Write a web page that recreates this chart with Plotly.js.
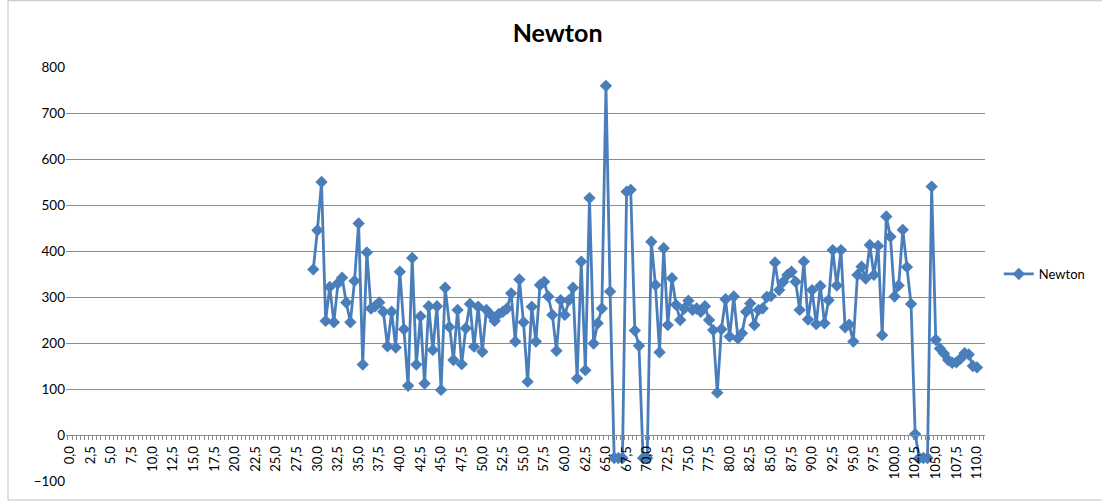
<!DOCTYPE html>
<html>
<head>
<meta charset="utf-8">
<script src="https://cdn.plot.ly/plotly-3.0.1.min.js"></script>
<style>html,body{margin:0;padding:0;background:#fff;}#chart{width:1102px;height:501px;}</style>
</head>
<body>
<div id="chart"></div>
<script>
const seriesName = "Newton";
const categories = [
  29.5,30,30.5,31,31.5,32,32.5,33,33.5,34,34.5,35,35.5,36,36.5,37,37.5,38,38.5,39,39.5,40,
  40.5,41,41.5,42,42.5,43,43.5,44,44.5,45,45.5,46,46.5,47,47.5,48,48.5,49,49.5,50,
  50.5,51,51.5,52,52.5,53,53.5,54,54.5,55,55.5,56,56.5,57,57.5,58,58.5,59,59.5,60,
  60.5,61,61.5,62,62.5,63,63.5,64,64.5,65,65.5,66,66.5,67,67.5,68,68.5,69,69.5,70,
  70.5,71,71.5,72,72.5,73,73.5,74,74.5,75,75.5,76,76.5,77,77.5,78,78.5,79,79.5,80,
  80.5,81,81.5,82,82.5,83,83.5,84,84.5,85,85.5,86,86.5,87,87.5,88,88.5,89,89.5,90,
  90.5,91,91.5,92,92.5,93,93.5,94,94.5,95,95.5,96,96.5,97,97.5,98,98.5,99,99.5,100,
  100.5,101,101.5,102,102.5,103,103.5,104,104.5,105,105.5,106,106.5,107,107.5,108,108.5,109,109.5,110
];
const newtonValues = [
  360,445,550,248,322,245,330,342,288,245,335,460,153,397,275,280,288,268,193,268,190,355,
  230,107,385,153,258,112,280,185,280,98,320,235,163,272,154,232,285,192,279,181,
  272,262,248,263,268,275,308,203,338,245,116,279,203,326,333,301,261,183,293,261,
  293,320,123,377,141,515,199,243,275,759,312,-50,-50,-50,529,533,227,194,-50,-50,
  420,326,180,406,239,341,283,250,275,292,272,275,268,280,250,228,92,230,295,214,
  301,210,221,268,286,239,272,275,300,302,375,315,333,348,355,333,272,377,251,315,
  241,324,243,293,402,325,402,234,240,203,348,366,340,413,348,411,217,475,431,301,
  325,446,365,285,2,-50,-50,-50,540,207,188,177,163,157,158,166,178,175,150,147
];
const xTickVals = [0,2.5,5,7.5,10,12.5,15,17.5,20,22.5,25,27.5,30,32.5,35,37.5,40,42.5,45,47.5,50,
  52.5,55,57.5,60,62.5,65,67.5,70,72.5,75,77.5,80,82.5,85,87.5,90,92.5,95,97.5,100,102.5,105,107.5,110];
const xTickText = ["0,0","2,5","5,0","7,5","10,0","12,5","15,0","17,5","20,0","22,5","25,0","27,5","30,0",
  "32,5","35,0","37,5","40,0","42,5","45,0","47,5","50,0","52,5","55,0","57,5","60,0","62,5","65,0","67,5",
  "70,0","72,5","75,0","77,5","80,0","82,5","85,0","87,5","90,0","92,5","95,0","97,5","100,0","102,5",
  "105,0","107,5","110,0"];
const yTickVals = [-100,0,100,200,300,400,500,600,700,800];

const blue = "#4A7EBB";
const gridGray = "#8C8C8C";
const font = "Lato, 'Liberation Sans', Arial, sans-serif";

const trace = {
  type: "scatter",
  mode: "lines+markers",
  name: seriesName,
  x: categories,
  y: newtonValues,
  line: {color: blue, width: 2.8},
  marker: {symbol: "diamond", size: 9.5, color: blue}
};

const layout = {
  width: 1102, height: 501,
  margin: {l: 66, r: 117, t: 67, b: 20},
  paper_bgcolor: "#fff", plot_bgcolor: "#fff",
  font: {family: font, size: 13, color: "#000"},
  title: {text: "<b>Newton</b>", font: {family: font, size: 25, color: "#000"},
          x: 0.506, xref: "container", xanchor: "center", y: 0.934, yref: "container", yanchor: "middle"},
  showlegend: true,
  legend: {x: 1.015, xanchor: "left", y: 0.5, yanchor: "middle", font: {family: font, size: 13, color: "#000"},
           bgcolor: "rgba(0,0,0,0)"},
  xaxis: {
    type: "linear",
    range: [-0.49, 110.97],
    anchor: "free", position: 100/900,
    showgrid: false, zeroline: false,
    showline: true, linecolor: gridGray, linewidth: 1,
    tickmode: "array", tickvals: xTickVals, ticktext: xTickText,
    tickangle: -90, ticks: "", ticklabelstandoff: 5,
    tickfont: {family: font, size: 13, color: "#000"},
    minor: {tickmode: "linear", tick0: 0.25, dtick: 0.5, ticks: "outside", ticklen: 4, tickcolor: gridGray, showgrid: false}
  },
  yaxis: {
    range: [-100, 800],
    tickmode: "array", tickvals: yTickVals,
    showgrid: true, gridcolor: gridGray, gridwidth: 1,
    zeroline: false, showline: false, ticks: "",
    tickfont: {family: font, size: 13.5, color: "#000"}
  },
  shapes: [{type: "rect", xref: "paper", yref: "paper", x0: -0.0631, x1: 1.1915, y0: -0.046, y1: 1.16,
            line: {color: "#BFBFBF", width: 1}, fillcolor: "rgba(0,0,0,0)", layer: "below"}]
};

Plotly.newPlot("chart", [trace], layout, {displayModeBar: false, staticPlot: true});
</script>
</body>
</html>
